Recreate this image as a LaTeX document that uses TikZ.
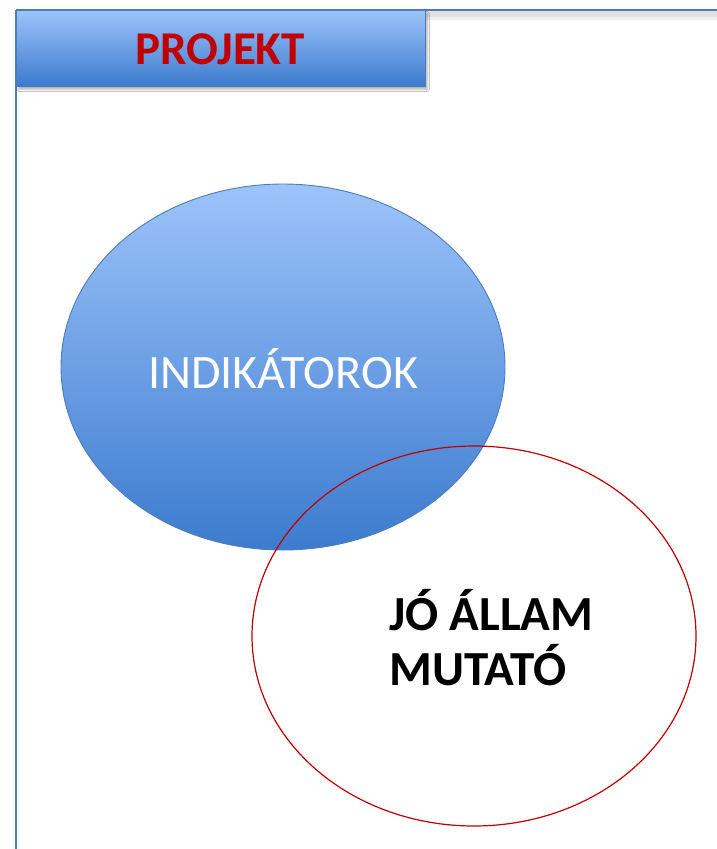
\documentclass[tikz,border=0pt]{standalone}
\usepackage{fontspec}
\setmainfont{Carlito}
\usetikzlibrary{shapes.geometric,shadows.blur}
\definecolor{frameblue}{RGB}{74,126,187}
\definecolor{lightblue}{RGB}{157,195,250}
\definecolor{darkblue}{RGB}{60,123,206}
\definecolor{headred}{RGB}{192,0,0}
\definecolor{ellred}{RGB}{192,0,0}
\tikzset{
  frameline/.style={draw=frameblue,line width=1.6pt},
  headbox/.style={draw=frameblue,line width=0.8pt,top color=lightblue,bottom color=darkblue,
    blur shadow={shadow xshift=2pt,shadow yshift=-3pt,shadow blur steps=6,shadow opacity=30}},
  blueell/.style={ellipse,draw=frameblue,line width=0.9pt,top color=lightblue,bottom color=darkblue,
    minimum width=444pt,minimum height=366pt,inner sep=0pt},
  redell/.style={ellipse,draw=ellred,line width=1.2pt,minimum width=444pt,minimum height=380pt,inner sep=0pt},
}
\begin{document}
\begin{tikzpicture}[x=1pt,y=-1pt]
\useasboundingbox[fill=white] (0,0) rectangle (717,849);
% frame
\fill[black!12] (16,11) rectangle (717,17);
\fill[black!6] (16,17) rectangle (717,20);
\draw[frameline] (16,10) -- (717,10);
\draw[frameline] (16,10) -- (16,849);
% header
\node[headbox,minimum width=409pt,minimum height=76pt,inner sep=0pt,anchor=north west] (head) at (16,10) {};
\node[text=headred,font=\bfseries\fontsize{47}{52}\selectfont] (title) at (220,49) {PROJEKT};
% ellipses
\node[blueell] (ind) at (283,367) {};
\node[text=white,font=\fontsize{48}{56}\selectfont] (indtext) at (283,369) {INDIKÁTOROK};
\node[redell] (jo) at (474,636) {};
\node[text=black,font=\bfseries\fontsize{49}{55}\selectfont,align=left,inner sep=0pt,anchor=west] (jotext) at (389,638) {JÓ ÁLLAM\\MUTATÓ};
\end{tikzpicture}
\end{document}
